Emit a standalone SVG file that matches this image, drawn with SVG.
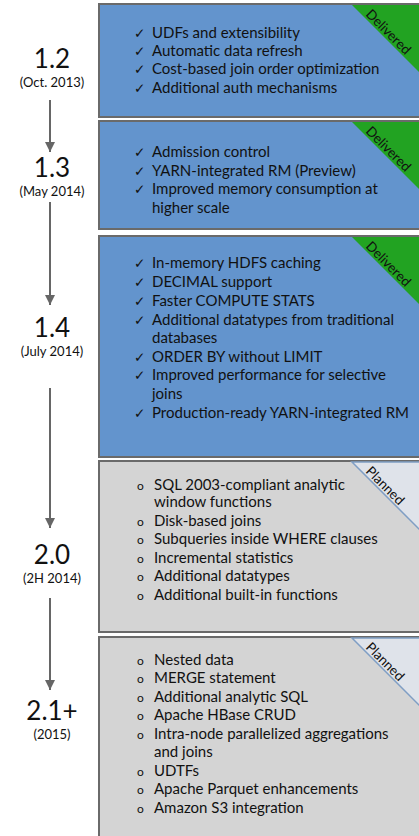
<svg xmlns="http://www.w3.org/2000/svg" width="419" height="836" viewBox="0 0 419 836">
  <defs>
    <style>
      .blue { fill: #6394cd; stroke: #6a6a6a; stroke-width: 2; }
      .grey { fill: #d4d4d4; stroke: #6a6a6a; stroke-width: 2; }
      .item { font-family: Lato, "Liberation Sans", sans-serif; font-size: 15px; fill: #111; }
      .mark { font-family: "DejaVu Sans", sans-serif; font-size: 13.5px; fill: #111; }
      .dot { font-family: Lato, "Liberation Sans", sans-serif; font-size: 12px; fill: #111; }
      .ver { font-family: Lato, "Liberation Sans", sans-serif; font-size: 26px; fill: #111; text-anchor: middle; }
      .date { font-family: Lato, "Liberation Sans", sans-serif; font-size: 13px; fill: #111; text-anchor: middle; }
      .tag { font-family: Lato, "Liberation Sans", sans-serif; font-size: 13.5px; fill: #111; }
      .done { fill: #22a322; }
      .plan { fill: #dfe3ea; stroke: #7f9ec4; stroke-width: 1.5; }
      .link { stroke: #666; stroke-width: 2; fill: none; }
    </style>
    <marker id="head" viewBox="0 0 10 10" refX="10" refY="5" markerWidth="5" markerHeight="5" orient="auto" markerUnits="strokeWidth">
      <path d="M0,0 L10,5 L0,10 z" fill="#666"/>
    </marker>
  </defs>

  <!-- timeline connectors -->
  <g id="connectors">
    <line class="link" x1="50" y1="100" x2="50" y2="152" marker-end="url(#head)"/>
    <line class="link" x1="50" y1="202" x2="50" y2="305" marker-end="url(#head)"/>
    <line class="link" x1="50" y1="388" x2="50" y2="528" marker-end="url(#head)"/>
    <line class="link" x1="50" y1="598" x2="50" y2="690" marker-end="url(#head)"/>
  </g>

  <!-- version labels -->
  <g id="v12"><text class="ver" x="52" y="68">1.2</text><text class="date" x="52" y="87">(Oct. 2013)</text></g>
  <g id="v13"><text class="ver" x="52" y="177">1.3</text><text class="date" x="52" y="196">(May 2014)</text></g>
  <g id="v14"><text class="ver" x="52" y="337">1.4</text><text class="date" x="52" y="356">(July 2014)</text></g>
  <g id="v20"><text class="ver" x="52" y="564">2.0</text><text class="date" x="52" y="583">(2H 2014)</text></g>
  <g id="v21"><text class="ver" x="52" y="720">2.1+</text><text class="date" x="52" y="739">(2015)</text></g>

  <!-- release 1.2 -->
  <g id="box12">
    <rect class="blue" x="99" y="4" width="340" height="113"/>
    <polygon class="done" points="352,5 440,5 440,93"/>
    <text class="tag" transform="translate(365,15) rotate(45)">Delivered</text>
    <text class="mark" x="134" y="38">✓</text><text class="item" x="152" y="38">UDFs and extensibility</text>
    <text class="mark" x="134" y="56">✓</text><text class="item" x="152" y="56">Automatic data refresh</text>
    <text class="mark" x="134" y="74">✓</text><text class="item" x="152" y="74">Cost-based join order optimization</text>
    <text class="mark" x="134" y="93">✓</text><text class="item" x="152" y="93">Additional auth mechanisms</text>
  </g>

  <!-- release 1.3 -->
  <g id="box13">
    <rect class="blue" x="99" y="121" width="340" height="108"/>
    <polygon class="done" points="352,122 440,122 440,210"/>
    <text class="tag" transform="translate(365,132) rotate(45)">Delivered</text>
    <text class="mark" x="134" y="157">✓</text><text class="item" x="152" y="157">Admission control</text>
    <text class="mark" x="134" y="176">✓</text><text class="item" x="152" y="176">YARN-integrated RM (Preview)</text>
    <text class="mark" x="134" y="194">✓</text><text class="item" x="152" y="194">Improved memory consumption at</text>
    <text class="item" x="152" y="213">higher scale</text>
  </g>

  <!-- release 1.4 -->
  <g id="box14">
    <rect class="blue" x="99" y="236" width="340" height="221"/>
    <polygon class="done" points="352,237 440,237 440,325"/>
    <text class="tag" transform="translate(365,247) rotate(45)">Delivered</text>
    <text class="mark" x="134" y="268">✓</text><text class="item" x="152" y="268">In-memory HDFS caching</text>
    <text class="mark" x="134" y="287">✓</text><text class="item" x="152" y="287">DECIMAL support</text>
    <text class="mark" x="134" y="306">✓</text><text class="item" x="152" y="306">Faster COMPUTE STATS</text>
    <text class="mark" x="134" y="325">✓</text><text class="item" x="152" y="325">Additional datatypes from traditional</text>
    <text class="item" x="152" y="343">databases</text>
    <text class="mark" x="134" y="362">✓</text><text class="item" x="152" y="362">ORDER BY without LIMIT</text>
    <text class="mark" x="134" y="380">✓</text><text class="item" x="152" y="380">Improved performance for selective</text>
    <text class="item" x="152" y="399">joins</text>
    <text class="mark" x="134" y="418">✓</text><text class="item" x="152" y="418">Production-ready YARN-integrated RM</text>
  </g>

  <!-- release 2.0 -->
  <g id="box20">
    <rect class="grey" x="99" y="461" width="340" height="171"/>
    <polygon class="plan" points="352,462 440,462 440,550"/>
    <text class="tag" transform="translate(365,472) rotate(45)">Planned</text>
    <text class="dot" x="137" y="490">o</text><text class="item" x="154" y="490">SQL 2003-compliant analytic</text>
    <text class="item" x="154" y="507">window functions</text>
    <text class="dot" x="137" y="526">o</text><text class="item" x="154" y="526">Disk-based joins</text>
    <text class="dot" x="137" y="544">o</text><text class="item" x="154" y="544">Subqueries inside WHERE clauses</text>
    <text class="dot" x="137" y="563">o</text><text class="item" x="154" y="563">Incremental statistics</text>
    <text class="dot" x="137" y="581">o</text><text class="item" x="154" y="581">Additional datatypes</text>
    <text class="dot" x="137" y="600">o</text><text class="item" x="154" y="600">Additional built-in functions</text>
  </g>

  <!-- release 2.1+ -->
  <g id="box21">
    <rect class="grey" x="99" y="637" width="340" height="210"/>
    <polygon class="plan" points="352,638 440,638 440,726"/>
    <text class="tag" transform="translate(365,648) rotate(45)">Planned</text>
    <text class="dot" x="137" y="665">o</text><text class="item" x="154" y="665">Nested data</text>
    <text class="dot" x="137" y="683">o</text><text class="item" x="154" y="683">MERGE statement</text>
    <text class="dot" x="137" y="702">o</text><text class="item" x="154" y="702">Additional analytic SQL</text>
    <text class="dot" x="137" y="720">o</text><text class="item" x="154" y="720">Apache HBase CRUD</text>
    <text class="dot" x="137" y="739">o</text><text class="item" x="154" y="739">Intra-node parallelized aggregations</text>
    <text class="item" x="154" y="757">and joins</text>
    <text class="dot" x="137" y="776">o</text><text class="item" x="154" y="776">UDTFs</text>
    <text class="dot" x="137" y="794">o</text><text class="item" x="154" y="794">Apache Parquet enhancements</text>
    <text class="dot" x="137" y="813">o</text><text class="item" x="154" y="813">Amazon S3 integration</text>
  </g>
</svg>
